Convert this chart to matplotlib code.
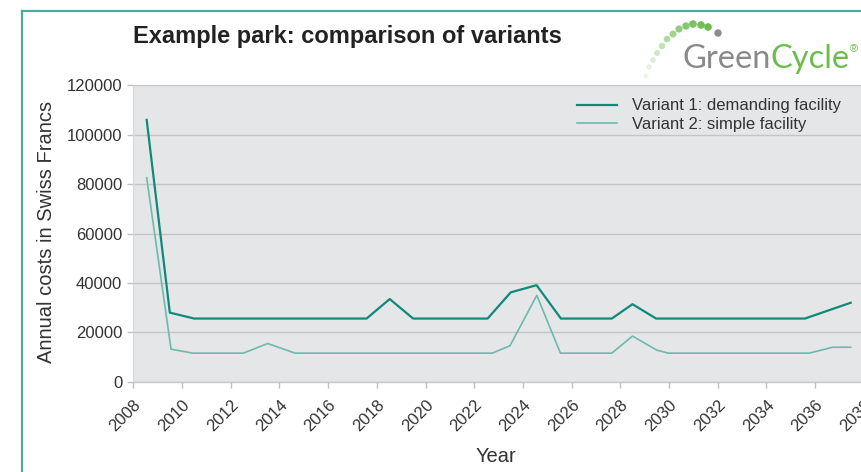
import matplotlib
matplotlib.use("Agg")
import matplotlib.pyplot as plt
from matplotlib.lines import Line2D
from matplotlib.patches import Circle

plt.rcParams["font.family"] = ["Liberation Sans", "DejaVu Sans"]

# Cost curves (decimal years, annual costs in CHF)
v1_years = [2008.55, 2009.5, 2010.5, 2017.58, 2018.53, 2019.49, 2022.55, 2023.5,
            2024.56, 2025.56, 2027.65, 2028.5, 2029.47, 2035.58, 2037.46]
v1_costs = [106000, 28000, 25600, 25600, 33500, 25600, 25600, 36200,
            39100, 25600, 25600, 31400, 25600, 25600, 32000]

v2_years = [2008.55, 2009.55, 2010.45, 2012.52, 2013.52, 2014.64, 2022.74, 2023.47,
            2024.57, 2025.54, 2027.65, 2028.5, 2029.5, 2029.97, 2035.76, 2036.72, 2037.46]
v2_costs = [82600, 13200, 11600, 11600, 15500, 11600, 11600, 14600,
            35000, 11600, 11600, 18500, 12800, 11600, 11600, 14000, 14000]

series_labels = ["Variant 1: demanding facility", "Variant 2: simple facility"]
x_ticks = list(range(2008, 2040, 2))
y_ticks = list(range(0, 120001, 20000))

title = "Example park: comparison of variants"
x_label = "Year"
y_label = "Annual costs in Swiss Francs"

W, H = 861, 472
fig = plt.figure(figsize=(W / 100, H / 100), dpi=100)
fig.patch.set_facecolor("white")


def fx(px):
    return px / W


def fy(py):
    return 1 - py / H


# Teal frame around the panel
frame_col = "#4dab9c"
fig.add_artist(Line2D([fx(22), fx(22)], [fy(11), fy(480)], color=frame_col, lw=1.6,
                      transform=fig.transFigure))
fig.add_artist(Line2D([fx(22), fx(870)], [fy(11), fy(11)], color=frame_col, lw=1.6,
                      transform=fig.transFigure))

# Plot area (extends past the right edge of the panel)
left_px, right_px = 133.3, 888.2
top_px, bot_px = 85.3, 381.8
ax = fig.add_axes([fx(left_px), fy(bot_px), fx(right_px - left_px), (bot_px - top_px) / H])
ax.set_facecolor("#e5e6e8")
ax.set_xlim(2008, 2039)
ax.set_ylim(0, 120000)

ax.grid(axis="y", color="#c4c5c7", lw=1.0)
ax.set_axisbelow(True)

for s in ["top", "right"]:
    ax.spines[s].set_visible(False)
ax.spines["left"].set_color("#d8d8d8")
ax.spines["bottom"].set_color("#c8c8c8")
ax.spines["left"].set_linewidth(0.8)
ax.spines["bottom"].set_linewidth(1.0)

c1 = "#0f8a78"
c2 = "#6dbaab"
ax.plot(v1_years, v1_costs, color=c1, lw=1.6, label=series_labels[0], zorder=3)
ax.plot(v2_years, v2_costs, color=c2, lw=1.2, label=series_labels[1], zorder=3)

ax.set_xticks(x_ticks)
ax.set_xticklabels([str(t) for t in x_ticks], rotation=45, ha="right",
                   rotation_mode="anchor")
ax.set_yticks(y_ticks)
ax.set_yticklabels([str(t) for t in y_ticks])
ax.tick_params(axis="both", colors="#c0c0c0", labelcolor="#333333", labelsize=12,
               length=4, width=1.0)
ax.tick_params(axis="y", pad=4)
ax.tick_params(axis="x", pad=7)

# Axis titles
fig.text(fx(47), fy(232), y_label, fontsize=14.5, color="#333333", rotation=90,
         ha="center", va="center")
fig.text(fx(496), fy(457), x_label, fontsize=14.5, color="#333333",
         ha="center", va="center")

leg = ax.legend(loc="upper left", bbox_to_anchor=((565 - left_px) / (right_px - left_px), 0.995),
                frameon=False, fontsize=12, handlelength=2.4, handletextpad=0.95,
                labelspacing=0.22, borderaxespad=0.3, labelcolor="#333333")

# Title
fig.text(fx(133), fy(37), title, fontsize=17, fontweight="bold", color="#222222",
         ha="left", va="center")

# Brand mark: dotted arc and wordmark
dots = [
    (646, 76, 1.8, "#eef6ea"),
    (649, 67, 2.0, "#e6f2e0"),
    (653, 60, 2.1, "#dcedd4"),
    (657, 53, 2.3, "#cfe8c6"),
    (662, 46, 2.5, "#c1e2b5"),
    (667, 39, 2.6, "#b1dba3"),
    (673, 34, 2.8, "#a1d490"),
    (679, 29, 2.9, "#92cd7e"),
    (686, 26, 3.0, "#85c76e"),
    (693, 24, 3.1, "#7bc262"),
    (701, 25, 3.1, "#72be57"),
    (708, 27, 3.1, "#6bbb4f"),
    (718, 33, 3.0, "#8c8c8c"),
]
for x, y, r, col in dots:
    fig.add_artist(Circle((x, H - y), r, color=col, transform=None, zorder=5))

wx, wy = 682, 68
t1 = fig.text(fx(wx), fy(wy), "Green", fontsize=23.5, color="#8a8a8a", ha="left",
              va="baseline", family=["Lato", "DejaVu Sans"])
fig.canvas.draw()
bb = t1.get_window_extent()
t2 = fig.text(bb.x1 / W, fy(wy), "Cycle", fontsize=23.5, color="#6cbd4d", ha="left",
              va="baseline", family=["Lato", "DejaVu Sans"])
fig.canvas.draw()
bb2 = t2.get_window_extent()
fig.text(bb2.x1 / W + 0.001, fy(wy - 16), "®", fontsize=8, color="#6cbd4d", ha="left",
         va="baseline")

fig.savefig("out.png", dpi=100)
